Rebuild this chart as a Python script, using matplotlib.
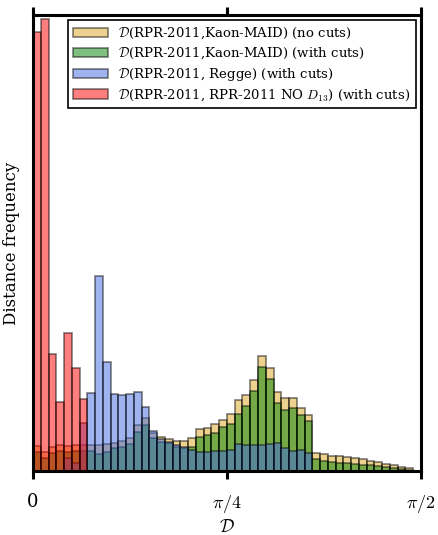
import numpy as np
import matplotlib
matplotlib.use("Agg")
import matplotlib.pyplot as plt

plt.rcParams['font.family'] = ['DejaVu Serif']
plt.rcParams['mathtext.fontset'] = 'cm'

# histogram bins: 50 equal bins over [0, pi/2]
n_bins = 50
edges = np.linspace(0, np.pi / 2, n_bins + 1)
centers = 0.5 * (edges[:-1] + edges[1:])

# bin counts (arbitrary units)
kmaid_nocuts = [25.3, 19.3, 24.3, 26.0, 25.0, 26.0, 26.0, 26.0, 26.0, 26.7,
                28.3, 30.3, 32.7, 46.0, 52.7, 37.7, 34.3, 31.7, 30.3, 30.3,
                33.3, 41.7, 43.3, 46.7, 51.0, 57.0, 71.0, 76.0, 91.0, 115.0,
                102.7, 79.3, 72.7, 72.7, 62.7, 56.0, 17.7, 16.7, 15.5, 14.7,
                13.7, 12.7, 11.7, 10.0, 9.0, 7.3, 5.7, 4.3, 2.7, 0.0]

kmaid_cuts = [19.3, 13.3, 18.3, 20.0, 19.0, 20.0, 20.0, 20.0, 17.0, 19.3,
              22.7, 24.3, 26.7, 39.3, 46.0, 32.7, 29.3, 27.7, 24.3, 22.7,
              24.3, 34.3, 36.0, 38.3, 44.0, 47.0, 57.0, 65.0, 80.3, 103.7,
              91.7, 68.3, 61.0, 62.7, 56.0, 50.3, 11.7, 10.3, 9.3, 8.5,
              7.7, 6.8, 6.3, 5.7, 4.7, 3.8, 3.0, 2.2, 1.2, 0.0]

regge_cuts = [0.0, 0.0, 0.0, 0.0, 13.0, 8.0, 48.3, 78.3, 195.0, 108.7,
              76.7, 76.0, 77.0, 79.3, 63.7, 40.3, 31.7, 29.0, 26.0, 24.0,
              21.0, 19.3, 19.3, 20.0, 20.0, 21.0, 27.5, 26.5, 26.0, 26.0,
              26.7, 28.3, 23.0, 20.0, 21.5, 18.5, 0.0, 0.0, 0.0, 0.0,
              0.0, 0.0, 0.0, 0.0, 0.0, 0.0, 0.0, 0.0, 0.0, 0.0]

nod13_cuts = [439.3, 451.7, 116.7, 69.3, 138.3, 102.7, 71.7, 0.0, 0.0, 0.0,
              0.0, 0.0, 0.0, 0.0, 0.0, 0.0, 0.0, 0.0, 0.0, 0.0,
              0.0, 0.0, 0.0, 0.0, 0.0, 0.0, 0.0, 0.0, 0.0, 0.0,
              0.0, 0.0, 0.0, 0.0, 0.0, 0.0, 0.0, 0.0, 0.0, 0.0,
              0.0, 0.0, 0.0, 0.0, 0.0, 0.0, 0.0, 0.0, 0.0, 0.0]

labels = [r'$\mathcal{D}$(RPR-2011,Kaon-MAID) (no cuts)',
          r'$\mathcal{D}$(RPR-2011,Kaon-MAID) (with cuts)',
          r'$\mathcal{D}$(RPR-2011, Regge) (with cuts)',
          r'$\mathcal{D}$(RPR-2011, RPR-2011 NO $D_{13}$) (with cuts)']
colors = ['goldenrod', 'green', 'royalblue', 'red']
series = [kmaid_nocuts, kmaid_cuts, regge_cuts, nod13_cuts]

fig = plt.figure(figsize=(4.38, 5.35), dpi=100)
ax = fig.add_axes([0.0753, 0.1196, 0.8858, 0.8523])

for vals, c, lab in zip(series, colors, labels):
    ax.hist(centers, bins=edges, weights=vals, color=c, alpha=0.5,
            edgecolor='black', linewidth=1.2, label=lab)

ax.set_xlim(0, np.pi / 2)
ax.set_ylim(0, 456)

ax.set_xticks([0, np.pi / 4, np.pi / 2])
ax.set_xticklabels(['0', r'$\pi/4$', r'$\pi/2$'], fontsize=13)
ax.set_yticks([])
ax.tick_params(axis='x', which='both', direction='out', length=6, width=2.2,
               top=True, bottom=True, labeltop=False, pad=10)

for s in ax.spines.values():
    s.set_linewidth(2.2)

ax.set_xlabel(r'$\mathcal{D}$', fontsize=13)
ax.xaxis.set_label_coords(0.5, -0.102)
ax.set_ylabel('Distance frequency', fontsize=12, labelpad=9)

leg = ax.legend(loc='upper right', fontsize=9.5, fancybox=False, framealpha=1,
                edgecolor='black', borderaxespad=0.4, handlelength=2.6,
                labelspacing=0.35, borderpad=0.4)
leg.get_frame().set_linewidth(1.2)

fig.savefig('out.png', dpi=100)
